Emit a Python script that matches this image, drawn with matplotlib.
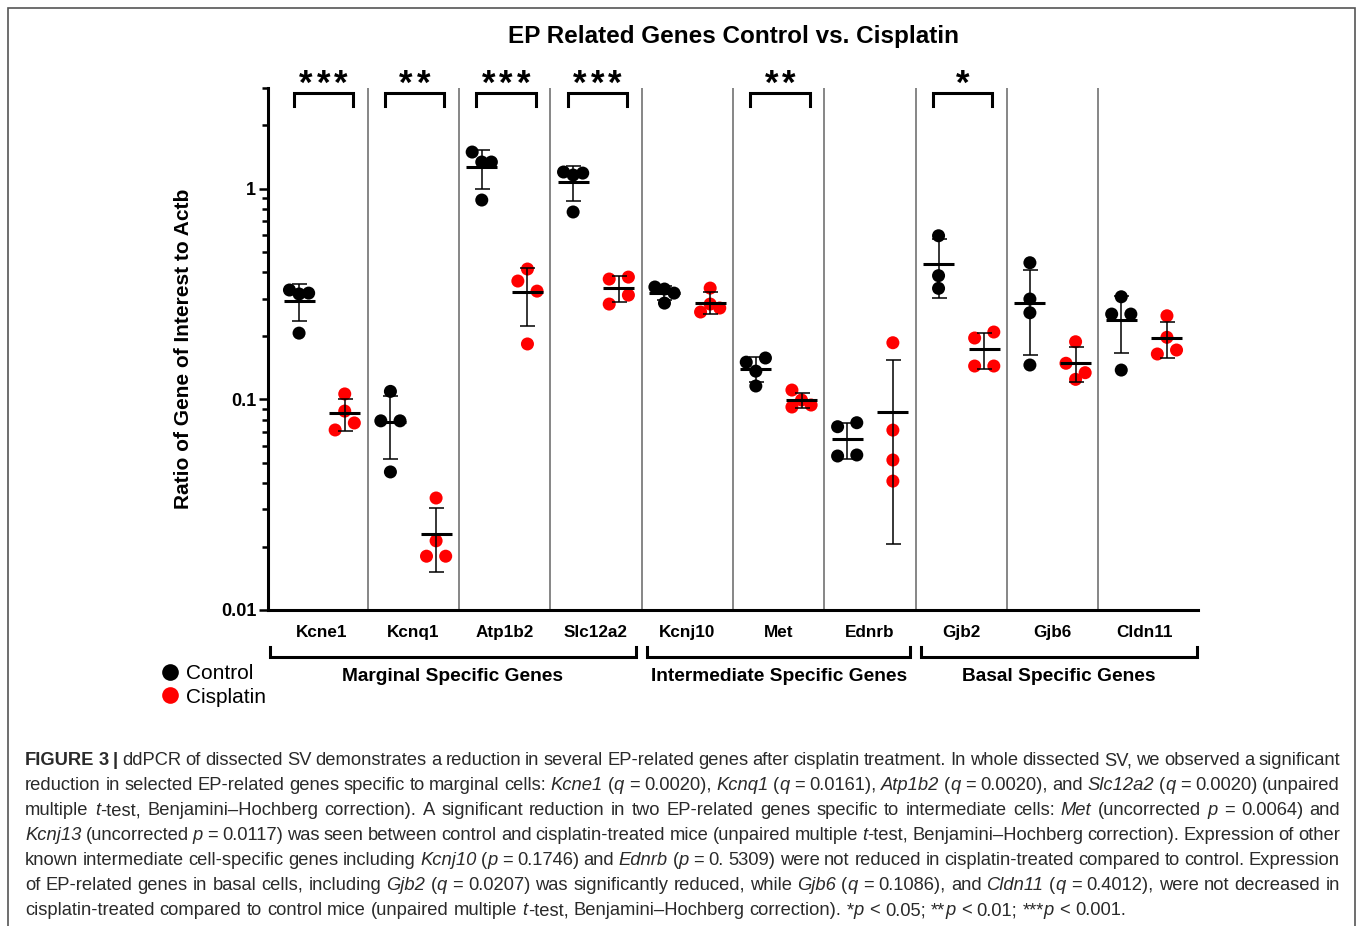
import numpy as np
import matplotlib
matplotlib.use('Agg')
import matplotlib.pyplot as plt
from matplotlib.lines import Line2D
from matplotlib.patches import Rectangle
from matplotlib.transforms import IdentityTransform, blended_transform_factory
from matplotlib.ticker import FixedLocator, LogLocator, FuncFormatter, NullFormatter

plt.rcParams['font.family'] = ['Liberation Sans', 'DejaVu Sans']

# ddPCR ratios (gene / Actb), one value per mouse
GENES = ['Kcne1', 'Kcnq1', 'Atp1b2', 'Slc12a2', 'Kcnj10', 'Met', 'Ednrb', 'Gjb2', 'Gjb6', 'Cldn11']
CONTROL = [
    [0.316, 0.330, 0.319, 0.206],
    [0.109, 0.079, 0.079, 0.0452],
    [1.336, 1.490, 1.336, 0.882],
    [1.159, 1.198, 1.184, 0.774],
    [0.3335, 0.341, 0.319, 0.286],
    [0.136, 0.150, 0.157, 0.1156],
    [0.0741, 0.0774, 0.0538, 0.0544],
    [0.597, 0.386, 0.336],
    [0.4446, 0.299, 0.2574, 0.1454],
    [0.3065, 0.2537, 0.2537, 0.1376],
]
CISPLATIN = [
    [0.106, 0.0879, 0.0715, 0.0772],
    [0.0340, 0.0213, 0.0180, 0.0180],
    [0.415, 0.364, 0.326, 0.183],
    [0.372, 0.380, 0.283, 0.312],
    [0.337, 0.283, 0.2595, 0.271],
    [0.0992, 0.1106, 0.0939, 0.0919],
    [0.1855, 0.0714, 0.0515, 0.0409],
    [0.1953, 0.2085, 0.1438, 0.1438],
    [0.1875, 0.1243, 0.1482, 0.1337],
    [0.249, 0.1968, 0.164, 0.1713],
]
SIGNIF = ['***', '**', '***', '***', '', '**', '', '*', '', '']
CELL_GROUPS = ['Marginal Specific Genes', 'Intermediate Specific Genes', 'Basal Specific Genes']
GROUP_RANGES = [(0, 3), (4, 6), (7, 9)]
SERIES = ['Control', 'Cisplatin']
TITLE = 'EP Related Genes Control vs. Cisplatin'
YLABEL = 'Ratio of Gene of Interest to Actb'

CAPTION = [
    '#FIGURE 3 |# ddPCR of dissected SV demonstrates a reduction in several EP-related genes after cisplatin treatment. In whole dissected SV, we observed a significant',
    'reduction in selected EP-related genes specific to marginal cells: _Kcne1_ (_q_ = 0.0020), _Kcnq1_ (_q_ = 0.0161), _Atp1b2_ (_q_ = 0.0020), and _Slc12a2_ (_q_ = 0.0020) (unpaired',
    'multiple _t_-test, Benjamini\u2013Hochberg correction). A significant reduction in two EP-related genes specific to intermediate cells: _Met_ (uncorrected _p_ = 0.0064) and',
    '_Kcnj13_ (uncorrected _p_ = 0.0117) was seen between control and cisplatin-treated mice (unpaired multiple _t_-test, Benjamini\u2013Hochberg correction). Expression of other',
    'known intermediate cell-specific genes including _Kcnj10_ (_p_ = 0.1746) and _Ednrb_ (_p_ = 0. 5309) were not reduced in cisplatin-treated compared to control. Expression',
    'of EP-related genes in basal cells, including _Gjb2_ (_q_ = 0.0207) was significantly reduced, while _Gjb6_ (_q_ = 0.1086), and _Cldn11_ (_q_ = 0.4012), were not decreased in',
    'cisplatin-treated compared to control mice (unpaired multiple _t_-test, Benjamini\u2013Hochberg correction). *_p_ < 0.05; **_p_ < 0.01; ***_p_ < 0.001.',
]

COLORS = ['#000000', '#ff0000']
ROW_GAP = 0.052   # decades; dots closer than this share a row
STEP = 0.105      # horizontal spacing of dots within a row


def spread(values):
    # simple scatter-dot layout: close values are put side by side
    logs = np.log10(values)
    order = np.argsort(-logs, kind='stable')
    rows = []
    for idx in order:
        if rows and len(rows[-1]) < 3 and logs[rows[-1][-1]] - logs[idx] < ROW_GAP:
            rows[-1].append(idx)
        else:
            rows.append([idx])
    slots = {1: [0], 2: [-1, 1], 3: [0, -1, 1]}
    offs = np.zeros(len(values))
    for row in rows:
        for k, idx in zip(slots[len(row)], sorted(row)):
            offs[idx] = k
    for row in rows:
        if len(row) != 1:
            continue
        i = row[0]
        for k in (0, -1, 1):
            clash = any(offs[j] == k and abs(logs[j] - logs[i]) < ROW_GAP
                        for j in range(len(values)) if j != i)
            if not clash:
                offs[i] = k
                break
    return offs * STEP


W, H = 1357, 926
fig = plt.figure(figsize=(W / 100, H / 100), dpi=100)
ax = fig.add_axes([268 / W, 1 - 610 / H, 930 / W, 522 / H])

fig.add_artist(Rectangle((8, -20), 1347, H - 8 + 20, transform=IdentityTransform(),
                         fill=False, ec='#555555', lw=1.2))

for i in range(len(GENES)):
    for vals, base, color in ((CONTROL[i], i + 0.25, COLORS[0]), (CISPLATIN[i], i + 0.75, COLORS[1])):
        vals = np.asarray(vals)
        ax.scatter(base + spread(vals), vals, s=88, color=color, edgecolors='none', zorder=2)
        m, sd = vals.mean(), vals.std(ddof=1)
        ax.errorbar(base, m, yerr=sd, fmt='none', ecolor='black', elinewidth=1.1,
                    capsize=5.4, capthick=1.1, zorder=3)
        ax.hlines(m, base - 0.17, base + 0.17, color='black', lw=2.2, zorder=3)

for k in range(1, len(GENES)):
    ax.axvline(k, color='#666666', lw=1.1, zorder=1)

ax.set_yscale('log')
ax.set_xlim(-0.09, len(GENES) + 0.09)
ax.set_ylim(0.01, 3.0001)
ax.yaxis.set_major_locator(FixedLocator([0.01, 0.1, 1]))
ax.yaxis.set_major_formatter(FuncFormatter(lambda v, p: '{:g}'.format(v)))
ax.yaxis.set_minor_locator(LogLocator(base=10, subs=np.arange(2, 10)))
ax.yaxis.set_minor_formatter(NullFormatter())
for s in ('top', 'right'):
    ax.spines[s].set_visible(False)
for s in ('left', 'bottom'):
    ax.spines[s].set_linewidth(2.2)
ax.tick_params(axis='x', bottom=False, labelbottom=False)
ax.tick_params(axis='y', which='major', length=6.5, width=1.8, labelsize=13, pad=2)
ax.tick_params(axis='y', which='minor', length=4.5, width=1.8)
for lab in ax.get_yticklabels():
    lab.set_fontweight('bold')
ax.set_ylabel(YLABEL, fontsize=15, fontweight='bold')
ax.yaxis.set_label_coords(-0.081, 0.5)

blend = blended_transform_factory(ax.transData, ax.transAxes)

# significance brackets, one asterisk per level
for i, stars in enumerate(SIGNIF):
    if not stars:
        continue
    ax.plot([i + 0.19, i + 0.19, i + 0.84, i + 0.84], [0.966, 0.99, 0.99, 0.966], transform=blend,
            color='black', lw=2.2, clip_on=False, solid_joinstyle='miter')
    n = len(stars)
    for k in range(n):
        ax.text(i + 0.515 + (k - (n - 1) / 2) * 0.19, 0.988, '*', transform=blend,
                ha='center', va='baseline', fontsize=25, fontweight='bold', clip_on=False)

# gene names and cell-type brackets under the axis
for i, g in enumerate(GENES):
    ax.text(i + 0.5, -0.044, g, transform=blend, ha='center', va='center',
            fontsize=12.3, fontweight='bold')
for name, (i0, i1) in zip(CELL_GROUPS, GROUP_RANGES):
    x0 = i0 + 0.06 if i0 > 0 else -0.07
    x1 = i1 + 1 - 0.06 if i1 < len(GENES) - 1 else len(GENES) + 0.08
    ax.plot([x0, x0, x1, x1], [-0.071, -0.090, -0.090, -0.071], transform=blend,
            color='black', lw=2.2, clip_on=False, solid_joinstyle='miter')
    ax.text((x0 + x1) / 2, -0.127, name, transform=blend, ha='center', va='center',
            fontsize=13.8, fontweight='bold')

handles = [Line2D([], [], marker='o', ls='none', markersize=12, color=c, markeredgewidth=0) for c in COLORS]
fig.legend(handles, SERIES, loc='upper left', bbox_to_anchor=(162 / W, 1 - 664 / H), frameon=False,
           handlelength=0.8, handletextpad=0.35, labelspacing=0.22, borderpad=0, borderaxespad=0,
           fontsize=15)

fig.text(733 / W, 1 - 37 / H, TITLE, ha='center', va='center', fontsize=17.5, fontweight='bold')


# justified figure legend text
def parse_words(line):
    words, pieces, buf = [], [], ''
    italic = bold = False
    for ch in line + ' ':
        if ch in '_# ':
            if buf:
                pieces.append((buf, italic, bold))
                buf = ''
            if ch == '_':
                italic = not italic
            elif ch == '#':
                bold = not bold
            elif pieces:
                words.append(pieces)
                pieces = []
        else:
            buf += ch
    return words


CAP_SIZE = 13.2
renderer = fig.canvas.get_renderer()


def piece_text(x, y, s, italic, bold):
    return fig.text(x, y, s, transform=IdentityTransform(), fontsize=CAP_SIZE, color='#2a2a2a',
                    style='italic' if italic else 'normal', weight='bold' if bold else 'normal',
                    va='baseline', ha='left')


def width_of(s, italic, bold):
    t = piece_text(0, 0, s, italic, bold)
    w = t.get_window_extent(renderer).width
    t.remove()
    return w


space = width_of('a a', False, False) - width_of('aa', False, False)
left, right = 25, 1340
for n, line in enumerate(CAPTION):
    words = parse_words(line)
    widths = [[width_of(*p) for p in w] for w in words]
    total = sum(sum(w) for w in widths)
    gap = space
    if n < len(CAPTION) - 1:
        gap = max((right - left - total) / (len(words) - 1), 0.4 * space)
    x = left
    y = H - (765 + 25 * n)
    for w, ws in zip(words, widths):
        for (s, it, bd), pw in zip(w, ws):
            piece_text(x, y, s, it, bd)
            x += pw
        x += gap

fig.savefig('out.png', dpi=100)
